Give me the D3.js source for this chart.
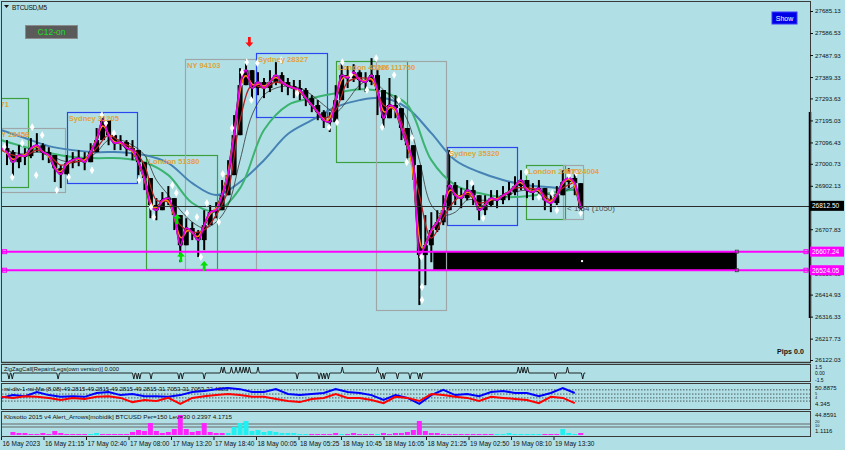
<!DOCTYPE html>
<html><head><meta charset="utf-8">
<script src="https://cdn.jsdelivr.net/npm/d3@7/dist/d3.min.js"></script>
<style>
html,body{margin:0;padding:0;background:#B0E0E6;overflow:hidden}
text{font-family:"Liberation Sans",Arial,sans-serif}
</style></head><body>
<svg id="chart" width="845" height="450"></svg>
<script>
// ---------- DATA ----------
const STEP = 9; // bars between price samples (M5 bars)
const closeP = [27071,27053,27008,27040,27035,27071,27084,27053,27040,26981,
 26954,27004,27017,27026,27008,27053,27107,27196,27129,27093,
 27098,27071,27062,27008,26937,26816,26793,26838,26847,26771,
 26636,26713,26695,26659,26726,26784,26793,26860,26950,27129,
 27353,27420,27340,27367,27340,27367,27398,27367,27349,27340,
 27331,27295,27264,27232,27196,27187,27286,27398,27385,27411,
 27376,27367,27398,27331,27205,27264,27250,27161,27084,26995,
 26592,26636,26704,26739,26793,26905,26860,26847,26883,26860,
 26793,26816,26847,26838,26860,26874,26901,26928,26883,26874,
 26892,26838,26825,26860,26919,26937,26914,26802];
const highP = [27116,27107,27062,27084,27071,27116,27138,27093,27075,27026,
 26995,27040,27053,27062,27053,27093,27161,27228,27183,27129,
 27129,27107,27107,27062,26981,26883,26847,26874,26901,26838,
 26713,26757,26739,26704,26793,26816,26829,26928,27017,27219,
 27429,27465,27398,27411,27385,27420,27456,27411,27385,27376,
 27376,27340,27308,27286,27241,27232,27353,27456,27438,27447,
 27420,27411,27474,27420,27264,27385,27308,27232,27138,27071,
 26928,26771,26784,26793,26860,27062,26919,26892,26928,26905,
 26847,26860,26883,26883,26901,26919,26945,26972,26928,26914,
 26928,26883,26860,26901,26972,26981,26963,26860];
const lowP = [27017,26995,26937,26981,26995,27026,27053,27017,27004,26919,
 26892,26963,26981,26990,26972,27017,27062,27143,27084,27062,
 27062,27035,27017,26950,26883,26757,26748,26802,26816,26704,
 26560,26668,26659,26583,26614,26748,26757,26816,26883,27017,
 27241,27353,27286,27308,27295,27322,27353,27322,27308,27295,
 27286,27259,27232,27196,27161,27143,27205,27340,27340,27367,
 27331,27322,27353,27219,27161,27205,27205,27107,27026,26928,
 26368,26457,26560,26695,26726,26838,26816,26802,26838,26816,
 26748,26771,26807,26802,26820,26838,26860,26883,26847,26838,
 26851,26793,26784,26816,26874,26892,26860,26771];

const MA_STEP = 18;
const maDarkRed = [27062,27040,27035,27062,27040,26995,27008,27017,27071,27129,
 27098,27071,26995,26838,26829,26726,26695,26704,26771,26883,
 27197,27353,27340,27367,27349,27322,27264,27205,27241,27367,
 27385,27376,27264,27241,27107,26861,26668,26758,26838,26865,
 26825,26838,26856,26892,26892,26883,26838,26892,26919];
const maThin = [27071,27053,27044,27053,27044,27017,27008,27017,27053,27107,
 27107,27084,27040,26928,26861,26793,26740,26713,26740,26816,
 27017,27219,27309,27340,27349,27340,27309,27264,27232,27286,
 27353,27376,27331,27286,27197,27017,26816,26771,26784,26838,
 26838,26838,26847,26874,26883,26883,26861,26874,26901];

const SLOW_STEP = 36;
const maGreen = [27107,27076,27049,27031,27026,27026,27008,26950,26825,26789,
 26892,27152,27264,27295,27317,27335,27322,27264,27017,26905,
 26870,26852,26856,26870,26887];
const maBlue = [27152,27116,27080,27062,27053,27053,27040,27004,26914,26861,
 26919,27017,27134,27196,27255,27286,27295,27250,27138,27017,
 26964,26928,26905,26896,26883];

const fracIdx = [5,17,32,47,53,62,84,102,137,152,158,170,208,226,230,258,264,271,280,295,
 301,310,328,334,348,363,370,377,386,422,446,494,506,514,527,551,565,574,592,599,
 611,619,633,634,634,678,709,726,791,810,830,837,855,866,873];
const fracPrice = [27076,26941,27093,27165,26950,27129,26883,26941,26972,27219,
 27183,27138,26928,26807,26762,26905,26870,26578,26780,26762,
 26583,26825,26740,26955,27161,27411,27456,27286,27452,27465,
 27317,27165,27187,27456,27398,27331,27474,27165,27398,27286,
 27008,27116,26583,26449,26391,27049,26914,26758,26964,26852,
 26870,26793,26950,26959,26780];

const upArrowIdx = [265,271,306];
const upArrowPrice = [26776,26606,26565];
const downArrowIdx = [374];
const downArrowPrice = [27524];

const sessStart = [-68,-11,99,219,277,384,505,565,672,791,847];
const sessEnd   = [41,96,205,326,384,491,612,671,778,850,877];
const sessHigh  = [27295,27161,27232,27040,27470,27497,27461,27461,27076,26995,26995];
const sessLow   = [26896,26876,26914,26529,26529,27210,27009,26344,26727,26755,26755];
const sessType  = ['London','NY','Sydney','London','NY','Sydney','London','NY','Sydney','London','NY'];
const sessLabel = ['London 39871','NY 28456','Sydney 31205','London 51380','NY 94103','Sydney 28327','London 45236','NY 111750','Sydney 35320','London 24070','NY 24004'];

const levelPrices = [26607.24, 26524.05];
const zoneIdx = [651, 1108];
const currentPrice = 26812.50;

const priceTicks = [27685.13,27586.53,27487.93,27389.33,27293.63,27195.03,27096.43,27000.73,26902.13,26707.83,26510.63,26414.93,26316.33,26217.73,26122.03];
const timeIdx = [0,64,128,192,256,320,384,448,512,576,640,704,768,832];
const timeLabels = ['16 May 2023','16 May 21:15','17 May 02:40','17 May 08:00','17 May 13:20','17 May 18:40','18 May 00:05','18 May 05:25','18 May 10:45','18 May 16:05','18 May 21:25','19 May 02:50','19 May 08:10','19 May 13:30'];

const zzIdx = [12,17,86,200,205,209,226,268,273,306,332,336,347,354,360,365,369,374,387,446,479,484,488,493,514,567,573,577,597,616,629,633,779,784,788,793,835,853,876];
const zzVal = [-1.5,-1.5,-1.5,-1.5,-1.5,-1.5,-1.5,-1.5,-1.5,-1.5,1.5,1.5,1.5,1.5,1.5,1.5,1.5,1.5,1.5,-1.5,-1.5,-1.5,-1.5,-1.5,1.5,1.5,-1.5,-1.5,-1.5,-1.5,-1.5,-1.5,1.5,1.5,1.5,1.5,-1.5,1.5,-1.5];
const ZZ_END = 880;

const RSI_STEP = 18;
const rsiBlue = [46,54,51,63,54,49,51,49,60,63,54,57,51,51,49,54,63,66,71,74,71,63,63,71,57,54,57,60,71,63,60,54,40,54,46,29,54,69,54,57,51,63,66,60,60,51,60,74,60];
const rsiRed = [49,46,51,49,46,40,46,43,49,51,46,34,40,37,46,29,46,51,54,57,54,49,49,43,37,34,43,46,57,46,46,40,31,49,46,37,57,54,49,46,37,49,46,43,40,31,49,46,31];
const rsiLevels = [69,57,46,37];

const KLO_STEP = 9;
const klosotto = [0,0,6,4,4,2,2,4,2,8, 4,2,2,2,2,-2,-4,2,2,2, 2,2,6,10,8,24,8,4,6,12,
 40,12,6,8,24,6,4,4,-4,-16, -24,-28,-8,-10,-6,-8,-6,-4,-4,-4, -2,-2,2,2,2,2,4,-2,2,4,
 2,2,2,-2,4,2,4,4,6,10, 28,8,4,4,2,2,2,2,2,2, 2,2,2,-2,-2,-4,-2,-2,-2,-2, -2,2,2,2,-12,-4,-2,4];
const kloLevels = [22,16];

// ---------- SCALES ----------
const svg = d3.select('#chart');
const x = d3.scaleLinear().domain([0,832]).range([1,553.5]);
const y = d3.scaleLinear().domain([26122.03,27685.13]).range([360,11]);
const yz = d3.scaleLinear().domain([-1.5,1.5]).range([379,367]);
const yr = d3.scaleLinear().domain([20,80]).range([407,386]);
const yk = d3.scaleLinear().domain([0,44]).range([435,413]);

svg.append('rect').attr('width',845).attr('height',450).attr('fill','#B0E0E6');
const defs = svg.append('defs');
defs.append('clipPath').attr('id','clipMain').append('rect').attr('x',2).attr('y',2).attr('width',808).attr('height',360);
const g = svg.append('g').attr('clip-path','url(#clipMain)');

// black zone
g.append('rect').attr('x',x(zoneIdx[0])).attr('width',x(zoneIdx[1])-x(zoneIdx[0]))
 .attr('y',y(levelPrices[0])).attr('height',y(levelPrices[1])-y(levelPrices[0])).attr('fill','#000');
g.append('rect').attr('x',x(875)-1).attr('y',y(26565)-1).attr('width',2).attr('height',2).attr('fill','#fff');

// sessions
const sessColor = {London:'#3e9e3e',NY:'#9ea6a8',Sydney:'#2a46f0'};
sessStart.forEach((s,i)=>{
  g.append('rect').attr('x',Math.round(x(s))+.5).attr('y',Math.round(y(sessHigh[i]))+.5)
   .attr('width',Math.round(x(sessEnd[i])-x(s))).attr('height',Math.round(y(sessLow[i])-y(sessHigh[i])))
   .attr('fill','none').attr('stroke',sessColor[sessType[i]]).attr('stroke-width',1.2);
});

const mkLine = (st,curve)=>d3.line().x((d,i)=>x(i*st)).y(d=>y(d)).curve(curve);
g.append('path').attr('d',mkLine(SLOW_STEP,d3.curveCatmullRom)(maBlue)).attr('fill','none').attr('stroke','#4682B4').attr('stroke-width',2);
g.append('path').attr('d',mkLine(SLOW_STEP,d3.curveCatmullRom)(maGreen)).attr('fill','none').attr('stroke','#3CB371').attr('stroke-width',2);
g.append('path').attr('d',mkLine(MA_STEP,d3.curveCatmullRom)(maThin)).attr('fill','none').attr('stroke','#333').attr('stroke-width',0.8);

// candles
const bars = closeP.map((c,i)=>({i:i*STEP,o:i?closeP[i-1]:c,c:c,h:highP[i],l:lowP[i]}));
g.append('path').attr('d',mkLine(STEP,d3.curveLinear)(closeP)).attr('fill','none').attr('stroke','#000').attr('stroke-width',2.5);
g.selectAll('line.wick').data(bars).join('line').attr('class','wick')
 .attr('x1',d=>x(d.i)).attr('x2',d=>x(d.i))
 .attr('y1',d=>y(Math.max(d.h,d.o,d.c))).attr('y2',d=>y(Math.min(d.l,d.o,d.c)))
 .attr('stroke','#000').attr('stroke-width',2);
g.selectAll('rect.body').data(bars).join('rect').attr('class','body')
 .attr('x',d=>x(d.i)-2.5).attr('width',5)
 .attr('y',d=>y(Math.max(d.o,d.c))).attr('height',d=>Math.max(2,Math.abs(y(d.o)-y(d.c))))
 .attr('fill','#000');

g.append('path').attr('d',mkLine(MA_STEP,d3.curveCatmullRom)(maDarkRed)).attr('fill','none').attr('stroke','#b22222').attr('stroke-width',1.3);
g.append('path').attr('d',mkLine(STEP,d3.curveBasis)(closeP)).attr('fill','none').attr('stroke','#ff8c00').attr('stroke-width',1.5);
g.append('path').attr('d',mkLine(STEP,d3.curveMonotoneX)(closeP)).attr('fill','none').attr('stroke','#e600e6').attr('stroke-width',1.8);

// levels
levelPrices.forEach(p=>{
  g.append('line').attr('x1',2).attr('x2',810).attr('y1',y(p)).attr('y2',y(p)).attr('stroke','#ff00ff').attr('stroke-width',2);
  g.append('rect').attr('x',2.5).attr('y',y(p)-2).attr('width',4).attr('height',4).attr('fill','none').attr('stroke','#ff00ff').attr('stroke-width',1);
  g.append('rect').attr('x',x(zoneIdx[1])-1.5).attr('y',y(p)-1.5).attr('width',3).attr('height',3).attr('fill','none').attr('stroke','#333').attr('stroke-width',0.8);
  g.append('rect').attr('x',804).attr('y',y(p)-2).attr('width',4).attr('height',4).attr('fill','none').attr('stroke','#ff00ff').attr('stroke-width',1);
});
g.append('line').attr('x1',2).attr('x2',810).attr('y1',Math.round(y(currentPrice))+.5).attr('y2',Math.round(y(currentPrice))+.5).attr('stroke','#2a2a2a').attr('stroke-width',1);

// fractals
g.selectAll('path.frac').data(fracIdx).join('path').attr('class','frac')
 .attr('d',d3.symbol(d3.symbolDiamond).size(18))
 .attr('transform',(d,i)=>`translate(${x(d)},${y(fracPrice[i])})`).attr('fill','#fff');

// arrows
const upPath = 'M0,0 L-4,4.5 L-1.4,4.5 L-1.4,10 L1.4,10 L1.4,4.5 L4,4.5 Z';
const downPath = 'M0,0 L-4,-4.5 L-1.4,-4.5 L-1.4,-10 L1.4,-10 L1.4,-4.5 L4,-4.5 Z';
upArrowIdx.forEach((d,i)=>g.append('path').attr('d',upPath).attr('transform',`translate(${x(d)},${y(upArrowPrice[i])})`).attr('fill','#00e000'));
downArrowIdx.forEach((d,i)=>g.append('path').attr('d',downPath).attr('transform',`translate(${x(d)},${y(downArrowPrice[i])})`).attr('fill','#ff1010'));

// session labels
sessStart.forEach((s,i)=>{
  g.append('text').attr('x',x(s)+2).attr('y',y(sessHigh[i])+9).text(sessLabel[i])
   .attr('font-size',7.6).attr('font-weight','bold').attr('fill','#e0a33c');
});

// timer text
g.append('text').attr('x',567).attr('y',211).text('< 1:54 (1050)').attr('font-size',8).attr('fill','#505050').attr('textLength',48).attr('lengthAdjust','spacingAndGlyphs');
g.append('text').attr('x',777).attr('y',354).text('Pips 0.0').attr('font-size',7).attr('font-weight','bold').attr('fill','#111').attr('textLength',27);

// header and buttons
svg.append('path').attr('d','M4,5 L9,5 L6.5,8 Z').attr('fill','#111');
svg.append('text').attr('x',12).attr('y',9.5).text('BTCUSD,M5').attr('font-size',6.5).attr('fill','#111').attr('textLength',35);
svg.append('rect').attr('x',25.5).attr('y',25.5).attr('width',52).attr('height',13).attr('fill','#5a5a5a').attr('stroke','#8a8a8a');
svg.append('text').attr('x',51.5).attr('y',35).attr('text-anchor','middle').text('C12-on').attr('font-size',8.5).attr('fill','#22dd22');
svg.append('rect').attr('x',772).attr('y',12).attr('width',25).attr('height',12).attr('fill','#0000e6').attr('stroke','#3a3aff');
svg.append('text').attr('x',784.5).attr('y',21).attr('text-anchor','middle').text('Show').attr('font-size',7).attr('fill','#fff');

// thick bar on right border
svg.append('line').attr('x1',810).attr('x2',810).attr('y1',y(27233)).attr('y2',y(26310)).attr('stroke','#000').attr('stroke-width',2.5);

// ---------- PANELS ----------
const border='#3a3a3a';
svg.append('rect').attr('x',1.5).attr('y',1.5).attr('width',809).attr('height',361).attr('fill','none').attr('stroke',border);
svg.append('line').attr('x1',1).attr('x2',811).attr('y1',362.5).attr('y2',362.5).attr('stroke',border).attr('stroke-width',1.5);
[[364.5,17],[383.5,26],[411.5,25]].forEach(r=>svg.append('rect').attr('x',1.5).attr('y',r[0]).attr('width',809).attr('height',r[1]).attr('fill','none').attr('stroke',border));

// zigzag panel
const zzPts = [[0,0]];
zzIdx.forEach((d,i)=>{zzPts.push([d-2,0]);zzPts.push([d,zzVal[i]]);zzPts.push([d+2,0]);});
zzPts.push([ZZ_END,0]);
svg.append('path').attr('d',d3.line().x(d=>x(d[0])).y(d=>yz(d[1]))(zzPts)).attr('fill','none').attr('stroke','#111').attr('stroke-width',0.9);
svg.append('text').attr('x',4).attr('y',370.5).text('ZigZagCall[RepaintLegs(own version)] 0.000').attr('font-size',6).attr('fill','#111').attr('textLength',115).attr('lengthAdjust','spacingAndGlyphs');

// rsi panel
rsiLevels.forEach(v=>svg.append('line').attr('x1',2).attr('x2',810).attr('y1',yr(v)).attr('y2',yr(v)).attr('stroke','#333').attr('stroke-width',0.8).attr('stroke-dasharray','1.5,1.5'));
svg.append('text').attr('x',4).attr('y',391).text('rsi-div-1-rsi-Ma (8,08)-49.2815-49.2815-49.2815-49.2815-31.7053-31.7053-32.4883').attr('font-size',6).attr('fill','#111').attr('textLength',224).attr('lengthAdjust','spacingAndGlyphs');
const rl = d3.line().x((d,i)=>x(i*RSI_STEP)).y(d=>yr(d));
svg.append('path').attr('d',rl(rsiBlue)).attr('fill','none').attr('stroke','#0000ff').attr('stroke-width',2);
svg.append('path').attr('d',rl(rsiRed)).attr('fill','none').attr('stroke','#ff0000').attr('stroke-width',2);

// klosotto panel
kloLevels.forEach(v=>svg.append('line').attr('x1',2).attr('x2',810).attr('y1',yk(v)).attr('y2',yk(v)).attr('stroke','#666').attr('stroke-width',1));
svg.selectAll('rect.klo').data(klosotto).join('rect').attr('class','klo')
 .attr('x',(d,i)=>x(i*KLO_STEP)-2.5).attr('width',5)
 .attr('y',d=>yk(Math.abs(d))).attr('height',d=>yk(0)-yk(Math.abs(d)))
 .attr('fill',d=>d>=0?'#ff22ff':'#22f0f0');
svg.append('text').attr('x',4).attr('y',419).text('Klosotto 2015 v4 Alert_Arrows[mobidik] BTCUSD Per=150 Lev=30 0.2397 4.1715').attr('font-size',6).attr('fill','#111').attr('textLength',228).attr('lengthAdjust','spacingAndGlyphs');

// ---------- AXES ----------
const ya = svg.append('g').attr('transform','translate(810,0)')
 .call(d3.axisRight(y).tickValues(priceTicks).tickSize(3).tickFormat(d3.format('.2f')));
ya.select('.domain').remove();
ya.selectAll('text').attr('font-size',6.2).attr('font-family','Liberation Sans, Arial, sans-serif').attr('fill','#111').attr('x',5);
ya.selectAll('line').attr('stroke','#111');

const lab = (p,bg,fg)=>{
  svg.append('rect').attr('x',810).attr('y',y(p)-5).attr('width',34).attr('height',10).attr('fill',bg);
  svg.append('text').attr('x',812).attr('y',y(p)+2.3).text(d3.format('.2f')(p)).attr('font-size',6.5).attr('fill',fg);
};
lab(currentPrice,'#000','#fff');
levelPrices.forEach(p=>lab(p,'#ff00ff','#fff'));

// sub-panel axis labels
const subLab = (txt,yy,fs)=>svg.append('text').attr('x',815).attr('y',yy).text(txt).attr('font-size',fs||6).attr('fill','#111');
subLab('1.5',yz(1.5)+1.5,5); subLab('0.00',yz(0)+2,5); subLab('-1.5',yz(-1.5)+2.5,5);
subLab('50.8875',390); subLab('5',395,4); subLab('4',399,4); subLab('4.345',406);
subLab('44.8591',417); subLab('20',423,4); subLab('10',427,4); subLab('1.1116',433); 
// time axis
const xa = svg.append('g').attr('transform','translate(0,437)');
timeIdx.forEach((d,i)=>{
  xa.append('line').attr('x1',x(d)+.5).attr('x2',x(d)+.5).attr('y1',0).attr('y2',3).attr('stroke','#111');
  xa.append('text').attr('x',x(d)+1.5).attr('y',9).text(timeLabels[i]).attr('font-size',6.5).attr('fill','#111');
});
</script></body></html>
